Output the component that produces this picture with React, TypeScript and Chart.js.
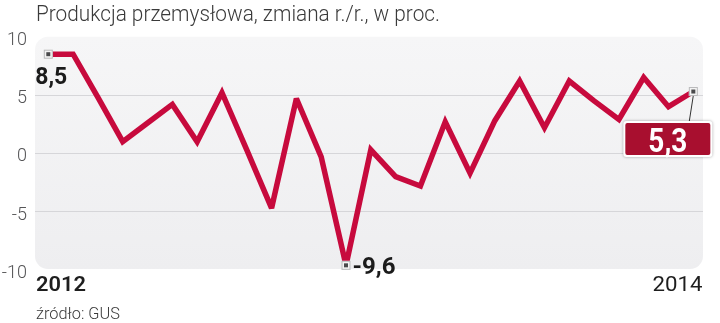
import React, { useEffect, useRef } from 'react';
import { Chart, registerables } from 'chart.js';

Chart.register(...registerables);

const TITLE = 'Produkcja przemysłowa, zmiana r./r., w proc.';
const SOURCE = 'źródło: GUS';

const months = [
  '2012-01', '2012-02', '2012-03', '2012-04', '2012-05', '2012-06',
  '2012-07', '2012-08', '2012-09', '2012-10', '2012-11', '2012-12',
  '2013-01', '2013-02', '2013-03', '2013-04', '2013-05', '2013-06',
  '2013-07', '2013-08', '2013-09', '2013-10', '2013-11', '2013-12',
  '2014-01', '2014-02', '2014-03',
];

const values = [
  8.5, 8.5, 4.8, 1.0, 2.6, 4.2, 1.0, 5.2, 0.3, -4.7, 4.7, -0.3, -9.6,
  0.3, -2.0, -2.8, 2.7, -1.7, 2.8, 6.2, 2.2, 6.2, 4.5, 2.9, 6.5, 4.0, 5.3,
];

const yTicks = [-10, -5, 0, 5, 10];
const gridValues = [-5, 0, 5];
const yearLabels = ['2012', '2014'];

const FIRST = 0;
const MIN = 12;
const LAST = 26;

const fmt = (v: number) => v.toFixed(1).replace('.', ',');

function drawMarker(ctx: CanvasRenderingContext2D, x: number, y: number) {
  ctx.save();
  ctx.fillStyle = '#f4f4f4';
  ctx.fillRect(x - 4.5, y - 4.5, 9, 9);
  ctx.strokeStyle = '#b9b9bb';
  ctx.lineWidth = 1;
  ctx.strokeRect(x - 4, y - 4, 8, 8);
  ctx.fillStyle = '#4a4a4c';
  ctx.fillRect(x - 2, y - 2, 4, 4);
  ctx.restore();
}

function fitText(ctx: CanvasRenderingContext2D, text: string, x: number, y: number, targetW: number) {
  const w = ctx.measureText(text).width;
  const s = targetW / w;
  ctx.save();
  ctx.translate(x, y);
  ctx.scale(s, 1);
  ctx.fillText(text, 0, 0);
  ctx.restore();
}

const decorPlugin = {
  id: 'decor',
  beforeDraw(chart: any) {
    const { ctx, chartArea } = chart;
    const { left, right, top, bottom } = chartArea;
    ctx.save();
    const g = ctx.createLinearGradient(0, top, 0, bottom);
    g.addColorStop(0, '#f6f6f7');
    g.addColorStop(1, '#eeeef0');
    ctx.fillStyle = g;
    ctx.beginPath();
    ctx.roundRect(left, top, right - left, bottom - top - 1, 13);
    ctx.fill();
    ctx.restore();
  },
  beforeDatasetsDraw(chart: any) {
    chart.ctx.save();
    chart.ctx.miterLimit = 2.6;
  },
  afterDatasetsDraw(chart: any) {
    const { ctx } = chart;
    ctx.restore();
    const pts = chart.getDatasetMeta(0).data;
    const p0 = pts[FIRST];
    const pm = pts[MIN];
    const pl = pts[LAST];

    const boxX = pl.x - 70;
    const boxY = pl.y + 29.5;
    const boxW = 89;
    const boxH = 36;
    ctx.save();
    ctx.strokeStyle = '#333';
    ctx.lineWidth = 1;
    ctx.beginPath();
    ctx.moveTo(pl.x, pl.y + 4);
    ctx.lineTo(pl.x - 4, boxY);
    ctx.stroke();
    ctx.restore();

    drawMarker(ctx, p0.x, p0.y);
    drawMarker(ctx, pm.x, pm.y);
    drawMarker(ctx, pl.x, pl.y);

    ctx.save();
    ctx.fillStyle = '#1b1b1b';
    ctx.textBaseline = 'alphabetic';
    ctx.textAlign = 'left';
    ctx.font = 'bold 23px Roboto';
    fitText(ctx, fmt(values[FIRST]), p0.x - 13, p0.y + 30, 32);
    fitText(ctx, fmt(values[MIN]), pm.x + 6.5, pm.y + 9, 43);
    ctx.restore();

    ctx.save();
    ctx.shadowColor = 'rgba(0,0,0,0.35)';
    ctx.shadowBlur = 3;
    ctx.fillStyle = '#ffffff';
    ctx.beginPath();
    ctx.roundRect(boxX, boxY, boxW, boxH, 3);
    ctx.fill();
    ctx.shadowColor = 'transparent';
    ctx.fillStyle = '#a80f2f';
    ctx.beginPath();
    ctx.roundRect(boxX + 2, boxY + 2, boxW - 4, boxH - 4, 2);
    ctx.fill();
    ctx.fillStyle = '#ffffff';
    ctx.font = 'bold 33px Roboto';
    ctx.textBaseline = 'alphabetic';
    const t = fmt(values[LAST]);
    const tw = 39;
    fitText(ctx, t, boxX + boxW / 2 - tw / 2, boxY + 30.5, tw);
    ctx.restore();
  },
  afterDraw(chart: any) {
    const { ctx, chartArea } = chart;
    ctx.save();
    ctx.textBaseline = 'alphabetic';
    ctx.textAlign = 'left';
    ctx.fillStyle = '#3a3a3a';
    ctx.font = '300 22px Roboto';
    fitText(ctx, TITLE, 36, 21, 404);

    ctx.fillStyle = '#1e1e1e';
    ctx.font = '600 21px Roboto';
    fitText(ctx, yearLabels[0], chartArea.left + 1, 291, 50);
    ctx.font = '400 21px Roboto';
    fitText(ctx, yearLabels[1], chartArea.right - 50.5, 291, 50);

    ctx.fillStyle = '#3a3a3a';
    ctx.font = '300 16px Roboto';
    fitText(ctx, SOURCE, 36, 319, 84);
    ctx.restore();
  },
};

export default function App() {
  const ref = useRef<HTMLCanvasElement | null>(null);

  useEffect(() => {
    document.body.style.margin = '0';
    const canvas = ref.current;
    if (!canvas) return;
    const chart = new Chart(canvas, {
      type: 'line',
      data: {
        labels: months,
        datasets: [
          {
            label: TITLE,
            data: values.map((v, i) => ({ x: i, y: v })),
            borderColor: '#c70a3d',
            borderWidth: 5.5,
            borderJoinStyle: 'miter',
            borderCapStyle: 'butt',
            pointRadius: 0,
            pointHoverRadius: 0,
            tension: 0,
            fill: false,
            clip: false as any,
          },
        ],
      },
      options: {
        responsive: false,
        animation: false,
        devicePixelRatio: 1,
        layout: { padding: { top: 36.7, bottom: 53, left: 0, right: 17 } },
        plugins: {
          legend: { display: false },
          tooltip: { enabled: false },
          title: { display: false },
        },
        scales: {
          x: {
            type: 'linear',
            min: -0.536,
            max: 26.39,
            display: false,
          },
          y: {
            min: -10,
            max: 10,
            afterBuildTicks: (s: any) => {
              s.ticks = yTicks.map((v) => ({ value: v }));
            },
            afterFit: (s: any) => {
              s.width = 35;
            },
            ticks: {
              padding: 8,
              labelOffset: 3.5,
              color: '#555557',
              font: { family: 'Roboto', size: 18, weight: '300' as any },
              callback: (v: any) => String(v),
            },
            grid: {
              drawTicks: false,
              lineWidth: 1,
              color: (c: any) =>
                c.tick && gridValues.includes(c.tick.value) ? '#d6d6d9' : 'rgba(0,0,0,0)',
            },
            border: { display: false },
          },
        },
      } as any,
      plugins: [decorPlugin],
    });
    return () => chart.destroy();
  }, []);

  return (
    <div style={{ position: 'absolute', left: 0, top: 0, width: 720, height: 323, background: '#fff' }}>
      <canvas ref={ref} width={720} height={323} style={{ width: 720, height: 323, display: 'block' }} />
    </div>
  );
}
